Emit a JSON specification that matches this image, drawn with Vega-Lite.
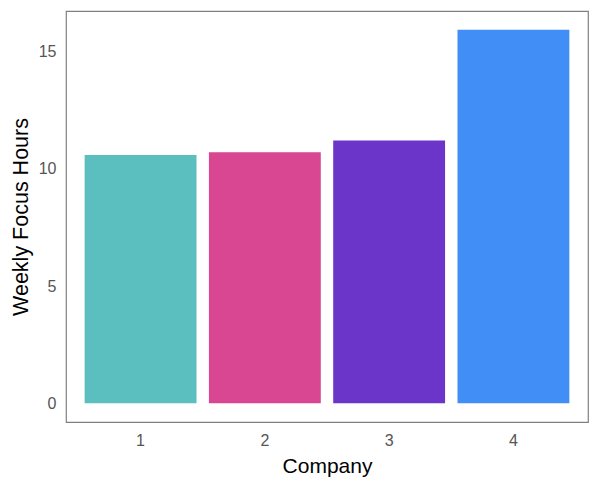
{
  "$schema": "https://vega.github.io/schema/vega-lite/v6.json",
  "autosize": {"type": "none"},
  "padding": {"left": 66, "top": 11, "right": 12, "bottom": 64},
  "width": 522,
  "height": 411,
  "background": "white",
  "config": {
    "font": "Liberation Sans",
    "view": {"stroke": "#808080", "strokeWidth": 1.2}
  },
  "data": {
    "values": [
      {"Company": "1", "Hours": 10.59},
      {"Company": "2", "Hours": 10.71},
      {"Company": "3", "Hours": 11.21},
      {"Company": "4", "Hours": 15.94}
    ]
  },
  "mark": {"type": "bar"},
  "encoding": {
    "x": {
      "field": "Company",
      "type": "nominal",
      "scale": {"paddingInner": 0.1, "paddingOuter": 0.15},
      "axis": {
        "title": "Company",
        "labelAngle": 0,
        "domain": false,
        "ticks": false,
        "tickSize": 0,
        "grid": false,
        "labelPadding": 10,
        "labelFontSize": 16,
        "labelColor": "#555555",
        "titleFontSize": 21,
        "titleFontWeight": "normal",
        "titleColor": "#000000",
        "titleY": 44,
        "titleBaseline": "middle"
      }
    },
    "y": {
      "field": "Hours",
      "type": "quantitative",
      "scale": {"domain": [-0.8, 16.74], "nice": false, "zero": false},
      "axis": {
        "title": "Weekly Focus Hours",
        "values": [0, 5, 10, 15],
        "domain": false,
        "ticks": false,
        "tickSize": 0,
        "grid": false,
        "labelPadding": 10,
        "labelFontSize": 16,
        "labelColor": "#555555",
        "titleFontSize": 21.5,
        "titleFontWeight": "normal",
        "titleColor": "#000000",
        "titleX": -45,
        "titleBaseline": "middle"
      }
    },
    "y2": {"datum": 0},
    "color": {
      "field": "Company",
      "type": "nominal",
      "scale": {"range": ["#5BBFBF", "#D94691", "#6A35C8", "#418FF6"]},
      "legend": null
    }
  }
}
